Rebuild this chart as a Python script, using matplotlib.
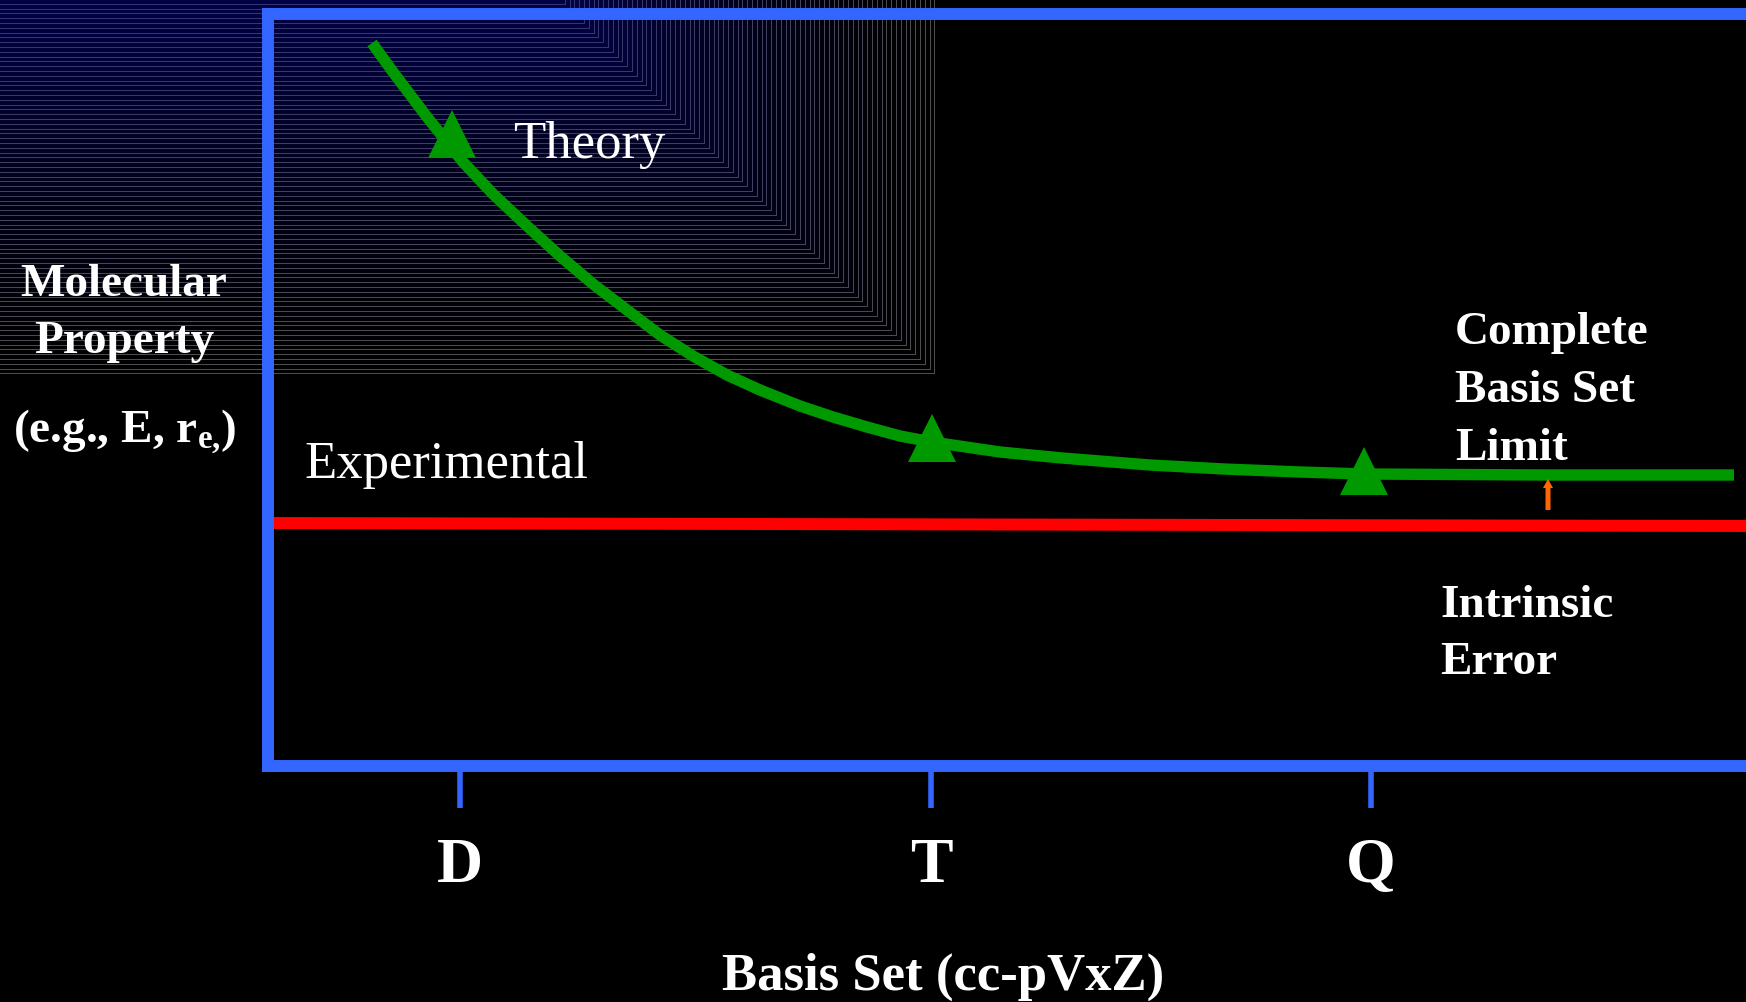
import numpy as np
import matplotlib
matplotlib.use("Agg")
import matplotlib.pyplot as plt

# ---------------- data ----------------
# x unit: 100 px from left axis line; y unit: 100 px above bottom axis line
basis_labels = ["D", "T", "Q"]
basis_pos = [1.92, 6.63, 11.03]

theory_x = [1.04, 1.25, 1.59, 1.95, 2.25, 2.59, 2.92, 3.25, 3.59, 3.92, 4.25,
            4.59, 4.92, 5.32, 5.65, 5.99, 6.32, 6.64, 7.32, 7.94, 8.82, 9.56,
            10.32, 10.96, 12.80, 14.66]
theory_y = [7.23, 6.94, 6.49, 6.04, 5.72, 5.40, 5.10, 4.82, 4.56, 4.31, 4.10,
            3.91, 3.76, 3.60, 3.49, 3.39, 3.30, 3.24, 3.14, 3.08, 3.01, 2.97,
            2.94, 2.92, 2.91, 2.91]

marker_x = [1.84, 6.64, 10.96]
marker_y = [6.32, 3.28, 2.955]

exp_x = [0.0, 14.78]
exp_y = [2.43, 2.40]

arrow_x = 12.80
arrow_y0, arrow_y1 = 2.56, 2.87

# ---------------- style ----------------
BLUE = "#3366FF"
GREEN = "#009900"
RED = "#FF0000"
ORANGE = "#FF6600"
SERIF = "Liberation Serif"

plt.rcParams["mathtext.fontset"] = "custom"
plt.rcParams["mathtext.rm"] = "Liberation Serif:bold"
plt.rcParams["mathtext.it"] = "Liberation Serif:bold"
plt.rcParams["mathtext.bf"] = "Liberation Serif:bold"

W, H = 1746, 1003
fig = plt.figure(figsize=(W / 100, H / 100), dpi=100, facecolor="black")

# ---------------- background gradient (slide decoration) ----------------
bg = fig.add_axes([0, 0, 1, 1], zorder=0)
yy, xx = np.mgrid[0:H, 0:W] + 0.5
f = np.maximum(xx - 560, yy)
inside = f <= 378
t = np.clip(f / 378.0, 0, 1)
img = np.zeros((H, W, 3))
img[..., 2] = 72 * (1 - t) ** 1.4
img[..., 0] = 2 * (1 - t)
img[..., 1] = 2 * (1 - t)
lines = (np.mod(f, 4.8) < 1.0) & inside
line_col = (1 - t)[..., None] * np.array([52, 52, 112]) + t[..., None] * np.array([78, 78, 80])
img = np.where(lines[..., None], line_col, img)
img[~inside] = 0
bg.imshow(img.astype(np.uint8), extent=(0, W, H, 0), interpolation="nearest", aspect="auto")
bg.set_xlim(0, W)
bg.set_ylim(H, 0)
bg.axis("off")

# ---------------- main axes ----------------
left_px, top_px, bottom_px = 268, 15, 767
ax = fig.add_axes([left_px / W, (H - bottom_px) / H, (W - left_px) / W, (bottom_px - top_px) / H],
                  zorder=1)
ax.set_facecolor("none")
ax.set_xlim(0, (W - left_px) / 100)
ax.set_ylim(0, (bottom_px - top_px) / 100)

for side in ["left", "top", "bottom"]:
    ax.spines[side].set_color(BLUE)
    ax.spines[side].set_linewidth(8.6)
ax.spines["right"].set_visible(False)

ax.set_yticks([])
ax.set_xticks(basis_pos, basis_labels)
ax.tick_params(axis="x", direction="out", length=30, width=4.0, color=BLUE,
               pad=21, labelcolor="white", labelsize=46)
for lbl in ax.get_xticklabels():
    lbl.set_fontfamily(SERIF)
    lbl.set_fontweight("bold")

# experimental line
ax.plot(exp_x, exp_y, color=RED, lw=8.6, solid_capstyle="butt", zorder=2)
# theory curve
ax.plot(theory_x, theory_y, color=GREEN, lw=8.2, solid_capstyle="butt",
        solid_joinstyle="round", zorder=3)
ax.plot(marker_x, marker_y, linestyle="none", marker="^", markersize=34,
        color=GREEN, markeredgewidth=0, zorder=4)
# small orange arrow
ax.arrow(arrow_x, arrow_y0, 0, arrow_y1 - arrow_y0, width=0.05, head_width=0.10,
         head_length=0.09, length_includes_head=True, color=ORANGE, lw=0, zorder=5)

# ---------------- texts ----------------
def txt(x, y, s, size, bold=True, ha="left"):
    ax.text(x, y, s, fontsize=size, color="white", family=SERIF,
            fontweight="bold" if bold else "normal", ha=ha, va="baseline",
            clip_on=False, zorder=6)

txt(2.45, 6.09, "Theory", 38, bold=False)
txt(0.36, 2.89, "Experimental", 38, bold=False)

txt(11.87, 4.23, "Complete", 34)
txt(11.87, 3.65, "Basis Set", 34)
txt(11.87, 3.07, "Limit", 34)

txt(11.72, 1.50, "Intrinsic", 34)
txt(11.72, 0.93, "Error", 34)

txt(-1.44, 4.71, "Molecular", 34, ha="center")
txt(-1.44, 4.14, "Property", 34, ha="center")
txt(-1.44, 3.25, r"(e.g., E, r$_{\mathrm{e,}}\!$)", 34, ha="center")

txt(6.75, -2.23, "Basis Set (cc-pVxZ)", 38, ha="center")

fig.savefig("out.png", dpi=100, facecolor="black")
